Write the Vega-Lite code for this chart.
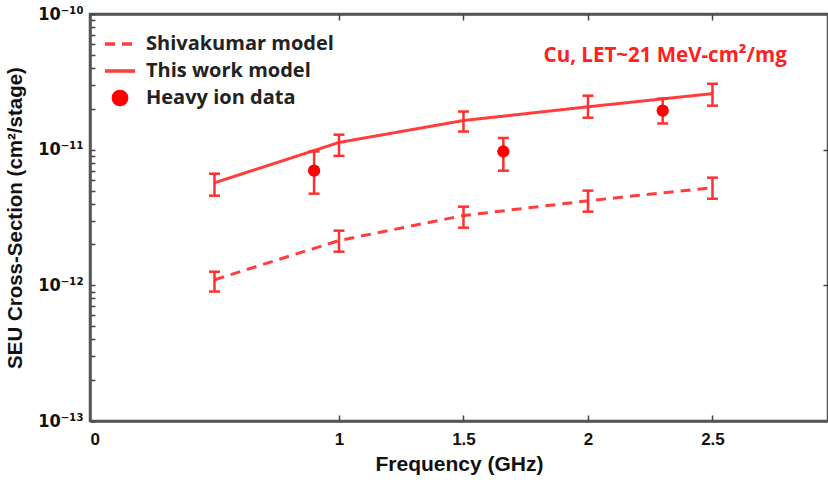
{
  "$schema": "https://vega.github.io/schema/vega-lite/v6.json",
  "width": 738,
  "height": 407,
  "config": {
    "view": {"stroke": "#555555", "strokeWidth": 2.5},
    "axis": {
      "domain": false,
      "tickColor": "#444444",
      "tickWidth": 1.5,
      "grid": false,
      "labelFont": "Liberation Sans",
      "labelFontSize": 17,
      "labelFontWeight": "bold",
      "labelColor": "#111111",
      "titleFont": "Liberation Sans",
      "titleFontSize": 21,
      "titleFontWeight": "bold",
      "titleColor": "#111111"
    }
  },
  "datasets": {
    "models": [
      {"series": "Shivakumar model", "freq": 0.5, "sigma": 1.10e-12, "lo": 9.0e-13, "hi": 1.26e-12},
      {"series": "Shivakumar model", "freq": 1.0, "sigma": 2.14e-12, "lo": 1.77e-12, "hi": 2.53e-12},
      {"series": "Shivakumar model", "freq": 1.5, "sigma": 3.27e-12, "lo": 2.66e-12, "hi": 3.80e-12},
      {"series": "Shivakumar model", "freq": 2.0, "sigma": 4.20e-12, "lo": 3.49e-12, "hi": 4.99e-12},
      {"series": "Shivakumar model", "freq": 2.5, "sigma": 5.25e-12, "lo": 4.35e-12, "hi": 6.22e-12},
      {"series": "This work model", "freq": 0.5, "sigma": 5.7e-12, "lo": 4.58e-12, "hi": 6.65e-12},
      {"series": "This work model", "freq": 1.0, "sigma": 1.13e-11, "lo": 9.0e-12, "hi": 1.29e-11},
      {"series": "This work model", "freq": 1.5, "sigma": 1.64e-11, "lo": 1.36e-11, "hi": 1.91e-11},
      {"series": "This work model", "freq": 2.0, "sigma": 2.07e-11, "lo": 1.72e-11, "hi": 2.50e-11},
      {"series": "This work model", "freq": 2.5, "sigma": 2.59e-11, "lo": 2.11e-11, "hi": 3.06e-11},
      {"series": "Heavy ion data", "freq": 0.9, "sigma": 7.0e-12, "lo": 4.74e-12, "hi": 9.7e-12},
      {"series": "Heavy ion data", "freq": 1.66, "sigma": 9.7e-12, "lo": 7.0e-12, "hi": 1.22e-11},
      {"series": "Heavy ion data", "freq": 2.3, "sigma": 1.94e-11, "lo": 1.56e-11, "hi": 2.38e-11}
    ],
    "note": [
      {"freq": 2.31, "sigma": 4.9e-11, "label": "Cu, LET~21 MeV-cm²/mg"}
    ]
  },
  "data": {"name": "models"},
  "layer": [
    {
      "transform": [{"filter": "datum.series !== 'Heavy ion data'"}],
      "mark": {"type": "line", "color": "#ff3d3d", "strokeWidth": 3},
      "encoding": {
        "x": {
          "field": "freq", "type": "quantitative",
          "scale": {"domain": [0, 2.964], "nice": false, "zero": false},
          "axis": {
            "orient": "bottom",
            "values": [0, 1, 1.5, 2, 2.5],
            "format": "~g",
            "offset": -6,
            "tickSize": 6,
            "labelPadding": 10,
            "title": "Frequency (GHz)",
            "titlePadding": 6
          }
        },
        "y": {
          "field": "sigma", "type": "quantitative",
          "scale": {"type": "log", "domain": [1e-13, 1e-10], "nice": false},
          "axis": {
            "orient": "left",
            "values": [1e-13, 2e-13, 3e-13, 4e-13, 5e-13, 6e-13, 7e-13, 8e-13, 9e-13, 1e-12, 2e-12, 3e-12, 4e-12, 5e-12, 6e-12, 7e-12, 8e-12, 9e-12, 1e-11, 2e-11, 3e-11, 4e-11, 5e-11, 6e-11, 7e-11, 8e-11, 9e-11, 1e-10],
            "labelExpr": "abs(datum.value - 1e-13) < 1e-16 ? '10⁻¹³' : abs(datum.value - 1e-12) < 1e-15 ? '10⁻¹²' : abs(datum.value - 1e-11) < 1e-14 ? '10⁻¹¹' : abs(datum.value - 1e-10) < 1e-13 ? '10⁻¹⁰' : ''",
            "labelFont": "DejaVu Sans Condensed",
            "labelFontSize": 18,
            "offset": -5,
            "tickSize": 5,
            "labelPadding": 7,
            "labelBound": false,
            "labelOverlap": false,
            "title": "SEU Cross-Section (cm²/stage)",
            "titleFontSize": 20.5,
            "titlePadding": 12
          }
        },
        "strokeDash": {
          "field": "series", "type": "nominal",
          "scale": {"domain": ["Shivakumar model", "This work model", "Heavy ion data"], "range": [[10, 7], [1, 0], [1, 0]]},
          "legend": {
            "title": null,
            "orient": "top-left",
            "offset": 13,
            "labelFont": "Open Sans",
            "labelFontSize": 20,
            "labelFontWeight": "bold",
            "labelColor": "#222222",
            "labelOffset": 9,
            "symbolSize": 900,
            "symbolStrokeWidth": 3.5,
            "symbolStrokeColor": "#ff3d3d",
            "rowPadding": 0,
            "labelLimit": 400,
            "encode": {
              "symbols": {
                "update": {
                  "shape": {"signal": "datum.value === 'Heavy ion data' ? 'circle' : 'stroke'"},
                  "size": {"signal": "datum.value === 'Heavy ion data' ? 280 : 900"},
                  "fill": {"signal": "datum.value === 'Heavy ion data' ? '#ff0000' : 'transparent'"},
                  "stroke": {"signal": "datum.value === 'Heavy ion data' ? 'transparent' : '#ff3d3d'"}
                }
              }
            }
          }
        }
      }
    },
    {
      "mark": {"type": "rule", "color": "#ff3030", "strokeWidth": 2.5},
      "encoding": {
        "x": {
          "field": "freq", "type": "quantitative",
          "axis": {"orient": "bottom", "domain": true, "domainColor": "#555555", "domainWidth": 2.5, "ticks": false, "labels": false, "title": null}
        },
        "y": {
          "field": "lo", "type": "quantitative",
          "axis": {"orient": "left", "domain": true, "domainColor": "#555555", "domainWidth": 2.5, "ticks": false, "labels": false, "title": null}
        },
        "y2": {"field": "hi"}
      }
    },
    {
      "mark": {"type": "tick", "orient": "horizontal", "color": "#ff3030", "size": 11, "thickness": 2.5, "opacity": 1},
      "encoding": {
        "x": {"field": "freq", "type": "quantitative", "axis": null},
        "y": {"field": "lo", "type": "quantitative", "axis": null}
      }
    },
    {
      "mark": {"type": "tick", "orient": "horizontal", "color": "#ff3030", "size": 11, "thickness": 2.5, "opacity": 1},
      "encoding": {
        "x": {"field": "freq", "type": "quantitative", "axis": null},
        "y": {"field": "hi", "type": "quantitative", "axis": null}
      }
    },
    {
      "transform": [{"filter": "datum.series === 'Heavy ion data'"}],
      "mark": {"type": "point", "filled": true, "color": "#ff0000", "size": 150, "opacity": 1},
      "encoding": {
        "x": {
          "field": "freq", "type": "quantitative",
          "axis": {"orient": "top", "domain": true, "domainColor": "#555555", "domainWidth": 2.5, "ticks": false, "labels": false, "title": null}
        },
        "y": {
          "field": "sigma", "type": "quantitative",
          "axis": {"orient": "right", "domain": true, "domainColor": "#555555", "domainWidth": 2.5, "ticks": false, "labels": false, "title": null}
        }
      }
    },
    {
      "data": {"name": "note"},
      "mark": {"type": "text", "color": "#ff2020", "font": "Open Sans", "fontSize": 20.5, "fontWeight": "bold", "align": "center", "baseline": "middle"},
      "encoding": {
        "x": {
          "field": "freq", "type": "quantitative",
          "axis": {"orient": "top", "values": [1, 1.5, 2, 2.5], "labels": false, "offset": -6, "tickSize": 6, "title": null}
        },
        "y": {
          "field": "sigma", "type": "quantitative",
          "axis": {"orient": "right", "values": [1e-12, 1e-11], "labels": false, "offset": -5, "tickSize": 5, "title": null}
        },
        "text": {"field": "label"}
      }
    }
  ],
  "resolve": {"axis": {"x": "independent", "y": "independent"}}
}
